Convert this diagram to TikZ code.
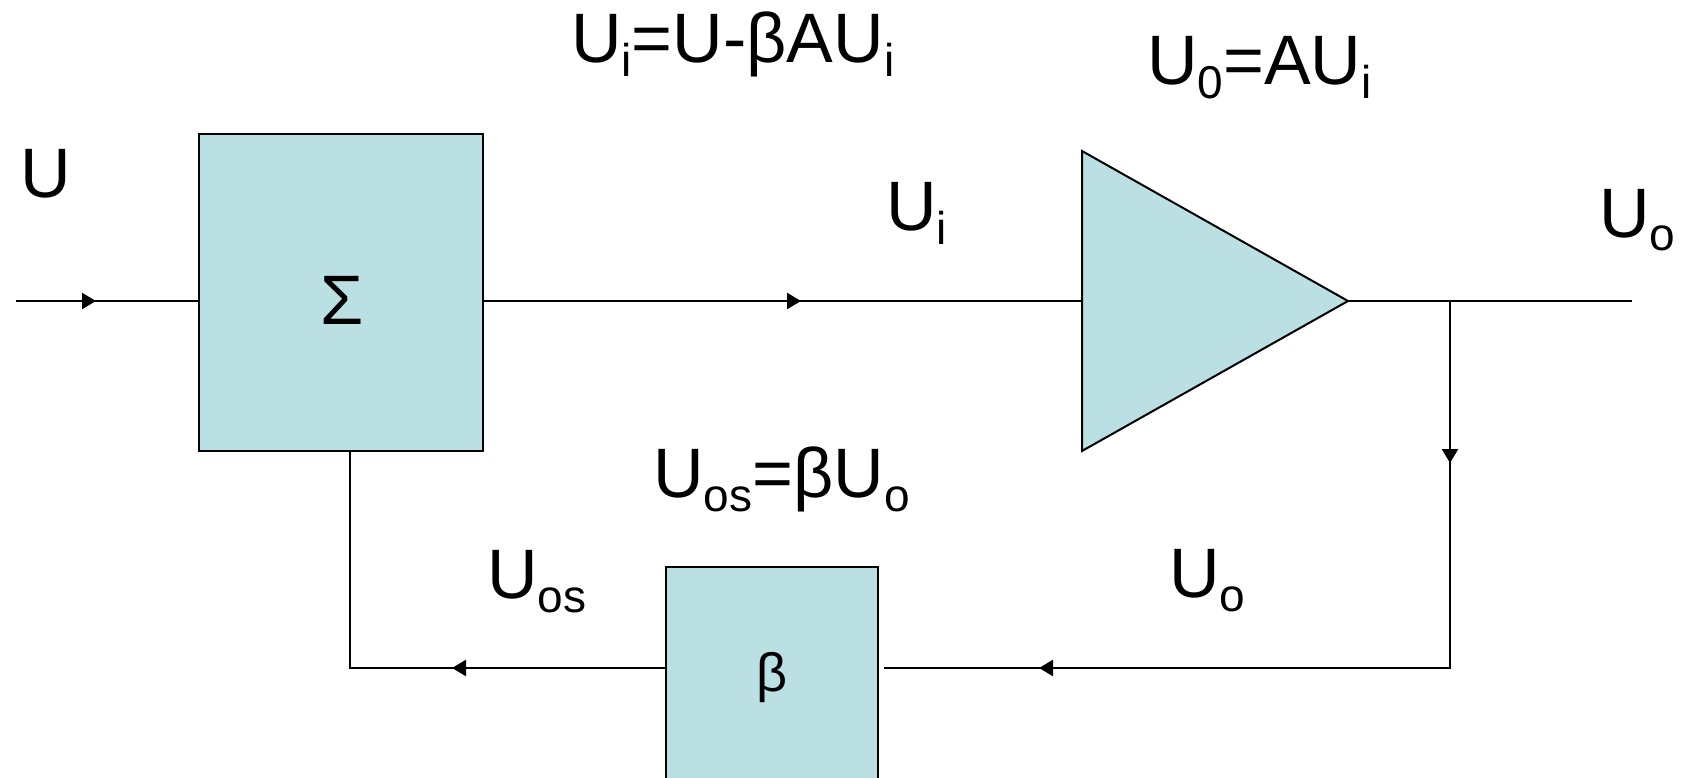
\documentclass[tikz,border=0pt]{standalone}
\usepackage{fontspec}
\setmainfont{Liberation Sans}
\usetikzlibrary{arrows.meta,decorations.markings}
\definecolor{boxfill}{HTML}{BBE0E3}
\newcommand{\lsub}[1]{\raisebox{-0.2em}{\fontsize{46pt}{46pt}\selectfont #1}}
\begin{document}
\begin{tikzpicture}[x=1pt,y=-1pt,
  lbl/.style={inner sep=0pt, anchor=base west, font=\fontsize{70pt}{70pt}\selectfont},
  blk/.style={draw, line width=2pt, fill=boxfill},
  wire/.style={line width=2.4pt},
  onearrow/.style={postaction={decorate,decoration={markings,
      mark=at position #1 with {\arrow{Triangle[length=14pt,width=16pt]}}}}},
  twoarrows/.style 2 args={postaction={decorate,decoration={markings,
      mark=at position #1 with {\arrow{Triangle[length=14pt,width=16pt]}},
      mark=at position #2 with {\arrow{Triangle[length=14pt,width=16pt]}}}}}
  ]
\useasboundingbox (0,0) rectangle (1684,778);
\clip (0,0) rectangle (1684,778);
\fill[white] (0,0) rectangle (1684,778);

% blocks
\node[blk, minimum width=284pt, minimum height=317pt, inner sep=0pt] (sum) at (341,292.5) {};
\node[inner sep=0pt, font=\fontsize{70pt}{70pt}\selectfont] (sigma) at (342,300) {Σ};
\node[blk, minimum width=212pt, minimum height=215pt, inner sep=0pt] (beta) at (772,674.5) {};
\node[inner sep=0pt, font=\fontsize{54pt}{54pt}\selectfont] (betalbl) at (772,678) {β};
\coordinate (amptop) at (1082,151);
\coordinate (amptip) at (1348,301);
\coordinate (ampbot) at (1082,451);
\coordinate (ampin) at (1082,301);
\draw[blk] (amptop) -- (amptip) -- (ampbot) -- cycle;

% connectors
\coordinate (in) at (16,301);
\coordinate (out) at (1632,301);
\coordinate (junc) at (1450,301);
\coordinate (cornerr) at (1450,668);
\coordinate (cornerl) at (350,668);
\draw[wire, onearrow=80pt] (in) -- (in -| sum.west);
\draw[wire, onearrow=317pt] (sum.east |- in) -- (ampin);
\draw[wire] (amptip) -- (out);
\draw[wire, twoarrows={162pt}{778pt}] (junc) -- (cornerr) -- ([xshift=5pt]beta.east |- cornerr);
\draw[wire, onearrow=213pt] (beta.west |- cornerl) -- (cornerl) -- (cornerl |- sum.south);

% labels
\node[lbl] (lu) at (20,198) {U};
\node[lbl] (lfeq) at (571,63) {U\lsub{i}=U-βAU\lsub{i}};
\node[lbl] (lampeq) at (1147,85) {U\lsub{0}=AU\lsub{i}};
\node[lbl] (lui) at (886,231) {U\lsub{i}};
\node[lbl] (luo) at (1599,237) {U\lsub{o}};
\node[lbl] (lbeq) at (653,497) {U\lsub{os}=βU\lsub{o}};
\node[lbl] (luos) at (487,598) {U\lsub{os}};
\node[lbl] (luob) at (1169,597) {U\lsub{o}};
\end{tikzpicture}
\end{document}
